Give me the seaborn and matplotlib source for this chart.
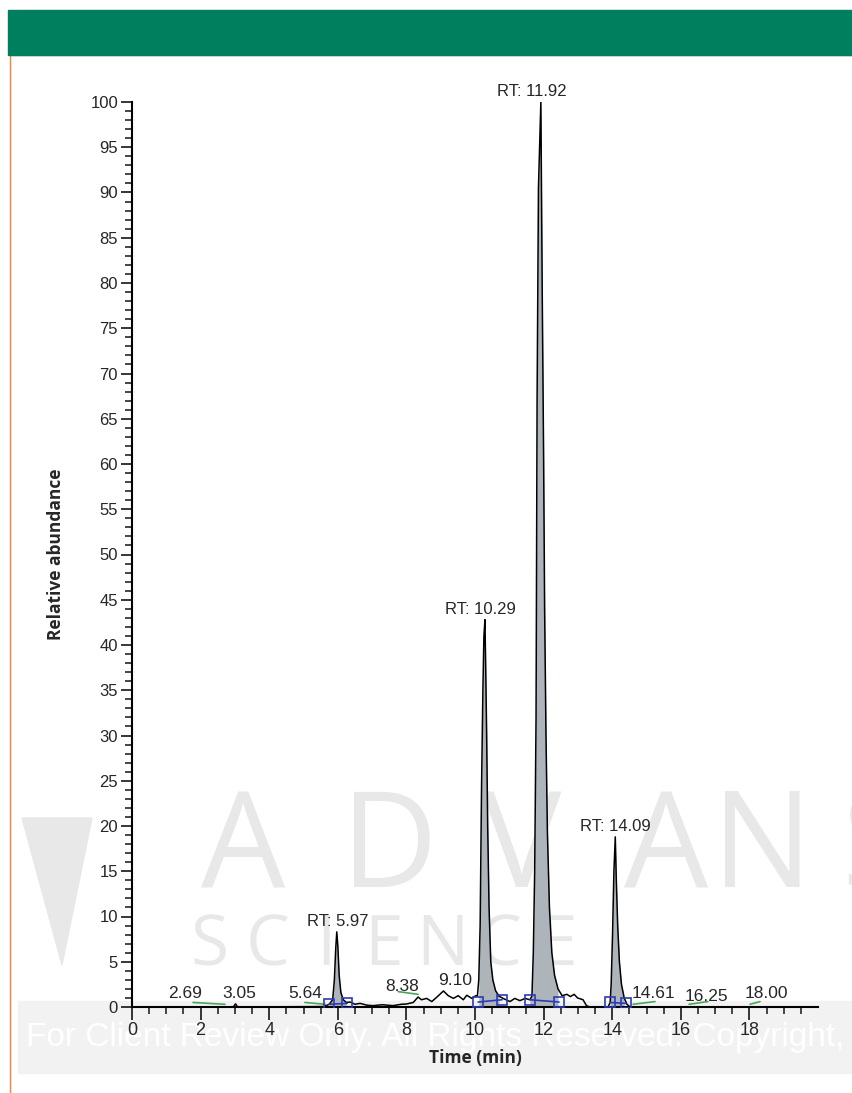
import numpy as np
import pandas as pd
import seaborn as sns
import matplotlib
matplotlib.use("Agg")
import matplotlib.pyplot as plt
from matplotlib.patches import Rectangle, Polygon

# Chromatogram trace (time in min, relative abundance in %)
rt_min = [0.0, 2.95, 3.02, 3.06, 3.10, 5.60, 5.75, 5.85, 5.90, 5.94, 5.97, 6.00, 6.04,
          6.09, 6.16, 6.25, 6.36, 6.50, 6.65, 6.85, 7.03, 7.30, 7.61, 7.85, 8.00, 8.20,
          8.34, 8.44, 8.59, 8.74, 8.89,
          9.08, 9.22, 9.37, 9.51, 9.66, 9.76, 9.91, 10.02, 10.07, 10.11, 10.15, 10.19,
          10.23, 10.26, 10.29, 10.31, 10.34, 10.37, 10.41, 10.46, 10.52, 10.60, 10.70,
          10.82, 11.02, 11.16, 11.31, 11.46, 11.60, 11.66, 11.70, 11.74, 11.78, 11.81,
          11.85, 11.92, 11.96, 12.00, 12.03, 12.07, 12.11, 12.17, 12.24, 12.32, 12.42,
          12.54, 12.68, 12.78, 12.89, 12.99, 13.15, 13.25, 13.35, 13.88, 13.94, 13.97,
          14.01, 14.05, 14.09, 14.12, 14.16, 14.21, 14.27, 14.35, 14.43, 14.52, 20.0]
abundance = [0.0, 0.0, 0.35, 0.1, 0.0, 0.05, 0.3, 0.8, 3.0, 6.5, 8.3, 6.8, 3.5,
             1.6, 0.8, 0.5, 0.55, 0.3, 0.4, 0.2, 0.15, 0.25, 0.15, 0.3, 0.33, 0.5,
             1.1, 0.8, 0.95, 0.6, 1.1,
             1.77, 1.25, 0.95, 1.25, 0.8, 1.3, 0.95, 1.25, 1.2, 3.0, 9.0, 24.0,
             35.0, 41.0, 42.8, 38.0, 30.0, 20.0, 11.0, 5.0, 3.0, 1.8, 1.2,
             0.95, 0.6, 0.95, 0.7, 0.95, 0.8, 1.2, 6.0, 15.0, 32.0, 67.0,
             90.5, 100.0, 79.0, 61.0, 44.0, 30.0, 19.5, 11.0, 6.0, 3.5, 2.0,
             1.25, 1.4, 1.15, 1.4, 1.0, 0.8, 0.15, 0.0, 0.0, 0.5, 2.5,
             8.0, 15.0, 18.8, 14.0, 9.0, 5.0, 2.5, 1.0, 0.3, 0.0, 0.0]

# Integrated peaks
apex_rt = [5.97, 10.29, 11.92, 14.09]
apex_height = [8.3, 42.8, 100.0, 18.8]
peak_start = [5.75, 10.09, 11.60, 13.94]
peak_end = [6.27, 10.79, 12.45, 14.40]
base_start = [0.3, 0.55, 0.8, 0.5]
base_end = [0.4, 0.8, 0.55, 0.4]
rt_label_dx = [0.04, -0.12, -0.26, -0.01]

# Small unlabelled detections
minor_rt = [2.69, 3.05, 5.64, 8.38, 9.10, 14.61, 16.25, 18.00]
minor_label_x = [1.05, 2.62, 4.55, 7.38, 8.92, 14.58, 16.12, 17.87]
minor_label_y = [1.0, 1.0, 1.0, 1.77, 2.43, 1.0, 0.66, 1.0]
green_x0 = [1.78, 5.04, 7.76, 14.61, 16.24, 18.02]
green_y0 = [0.5, 0.5, 1.7, 0.3, 0.3, 0.3]
green_x1 = [2.71, 5.63, 8.34, 15.25, 16.79, 18.31]
green_y1 = [0.3, 0.3, 1.4, 0.6, 0.6, 0.6]

df = pd.DataFrame({"time": rt_min, "abundance": abundance})

sns.set_style("ticks")
plt.rcParams["font.family"] = ["Liberation Sans", "DejaVu Sans"]

W, H = 852, 1093
fig = plt.figure(figsize=(W / 100, H / 100), dpi=100)


def fx(px):
    return px / W


def fy(py):
    return 1 - py / H


# header banner and frame
fig.patches.append(Rectangle((fx(8), fy(55)), 1 - fx(8), fy(10) - fy(55),
                             transform=fig.transFigure, color="#007f5f", zorder=-10))
fig.lines.append(plt.Line2D([fx(10), 1], [fy(55), fy(55)], transform=fig.transFigure,
                            color="#d98b5f", lw=1, zorder=-10))
fig.lines.append(plt.Line2D([fx(10), fx(10)], [fy(55), 0], transform=fig.transFigure,
                            color="#d98b5f", lw=1, zorder=-10))

# watermark (behind the chart)
wm = "#e8e8e8"
fig.patches.append(Polygon([(fx(22), fy(818)), (fx(92), fy(818)), (fx(62), fy(965))],
                           closed=True, transform=fig.transFigure, color=wm, zorder=-9))
for letter, cx in zip("ADVANS", [243, 389, 522, 666, 762, 878]):
    fig.text(fx(cx), fy(852), letter, fontsize=96, color=wm, ha="center", va="center",
             family=["Open Sans", "DejaVu Sans"], zorder=-9)
for i, letter in enumerate("SCIENCE"):
    fig.text(fx(210 + i * 58), fy(947), letter, fontsize=50, color=wm, ha="center",
             va="center", family=["Open Sans", "DejaVu Sans"], zorder=-9)
fig.patches.append(Rectangle((fx(18), fy(1073)), 1 - fx(18), fy(1001) - fy(1073),
                             transform=fig.transFigure, color="#f2f2f2", zorder=-8))
fig.text(fx(26), fy(1046), "For Client Review Only. All Rights Reserved. Copyright, Advances",
         fontsize=24, color="white", ha="left", va="baseline", zorder=-7)

ax = fig.add_axes([fx(132), fy(1007), fx(818) - fx(132), fy(102) - fy(1007)])
ax.set_facecolor("none")

# trace
sns.lineplot(data=df, x="time", y="abundance", color="black", lw=1.1, ax=ax, zorder=4)

t = np.array(rt_min)
a = np.array(abundance)
for s, e, bs, be in zip(peak_start, peak_end, base_start, base_end):
    mask = (t >= s) & (t <= e)
    ax.fill_between(t, a, 0, where=mask, color="#adb5ba", lw=0, zorder=2)
    ax.plot([s, e], [bs, be], color="#2b3bb5", lw=1.2, marker="s", ms=6.5,
            mfc="none", mew=1.2, zorder=5)

for x0, y0, x1, y1 in zip(green_x0, green_y0, green_x1, green_y1):
    ax.plot([x0, x1], [y0, y1], color="#4aa55a", lw=1.2, zorder=3)

# peak labels
for rt, h, dx in zip(apex_rt, apex_height, rt_label_dx):
    ax.annotate(f"RT: {rt:.2f}", (rt + dx, h), xytext=(0, 4), textcoords="offset points",
                ha="center", va="baseline", fontsize=12, annotation_clip=False)
for rt, lx, ly in zip(minor_rt, minor_label_x, minor_label_y):
    ax.text(lx, ly, f"{rt:.2f}", ha="left", va="baseline", fontsize=12.5, clip_on=False)

# axes
ax.set_xlim(0, 20)
ax.set_ylim(0, 100)
ax.set_xticks(np.arange(0, 19, 2))
ax.set_xticks(np.arange(0, 20, 0.5), minor=True)
ax.set_yticks(np.arange(0, 101, 5))
ax.set_yticks(np.arange(0, 101, 1), minor=True)
ax.tick_params(axis="x", which="major", direction="out", length=9, width=1.3, labelsize=13, pad=2)
ax.tick_params(axis="y", which="major", direction="out", length=8, width=1.3, labelsize=12, pad=2)
ax.tick_params(which="minor", direction="out", length=5, width=1.2)
for side in ["top", "right"]:
    ax.spines[side].set_visible(False)
for side in ["left", "bottom"]:
    ax.spines[side].set_linewidth(1.5)
    ax.spines[side].set_color("black")

ax.set_xlabel("Time (min)", fontsize=12.5, fontweight="bold", family=["Open Sans", "DejaVu Sans"])
ax.set_ylabel("Relative abundance", fontsize=12.5, fontweight="bold", family=["Open Sans", "DejaVu Sans"])
ax.xaxis.set_label_coords(0.5, -0.046)
ax.yaxis.set_label_coords(-0.098, 0.5)
ax.xaxis.label.set_va("top")

fig.savefig("out.png", dpi=100)
